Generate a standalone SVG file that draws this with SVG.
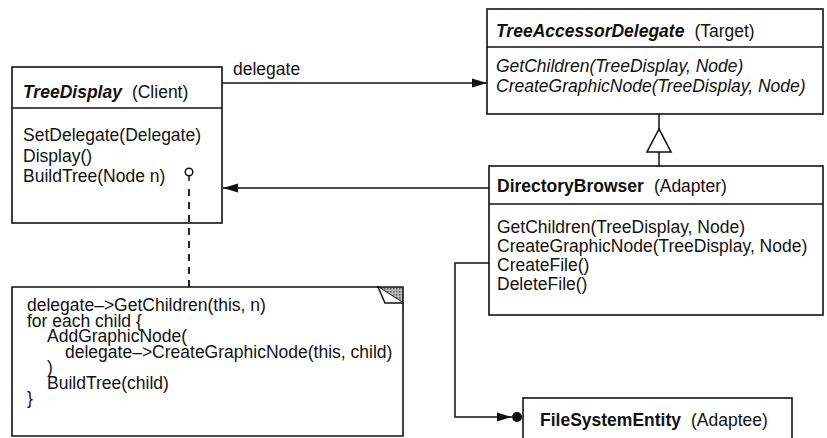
<svg xmlns="http://www.w3.org/2000/svg" width="827" height="438" viewBox="0 0 827 438">
<defs>
<style>
.box{fill:#fff;stroke:#111;stroke-width:1.6}
.ln{fill:none;stroke:#111;stroke-width:1.5}
.t{font-family:"Liberation Sans",Arial,sans-serif;font-size:17.5px;fill:#111}
.n{font-family:"Liberation Sans",Arial,sans-serif;font-size:17.5px;fill:#111}
.bi{font-weight:bold;font-style:italic}
.b{font-weight:bold}
.i{font-style:italic}
</style>
<marker id="arr" markerUnits="userSpaceOnUse" markerWidth="16" markerHeight="10" refX="15" refY="5" orient="auto">
<path d="M0,0.5 L15,5 L0,9.5 z" fill="#111"/>
</marker>
<pattern id="hatch" width="3" height="3" patternUnits="userSpaceOnUse">
<rect width="3" height="3" fill="#bbb"/>
<rect width="1.5" height="1.5" fill="#555"/>
</pattern>
</defs>
<rect width="827" height="438" fill="#fff"/>

<g id="TreeDisplay">
<rect class="box" x="12" y="67" width="210" height="156"/>
<line class="ln" x1="12" y1="108" x2="222" y2="108"/>
<text class="t" x="23" y="98"><tspan class="bi">TreeDisplay</tspan><tspan dx="10">(Client)</tspan></text>
<text class="t" x="23" y="141">SetDelegate(Delegate)</text>
<text class="t" x="23" y="162">Display()</text>
<text class="t" x="23" y="182">BuildTree(Node n)</text>
</g>

<g id="TreeAccessorDelegate">
<rect class="box" x="487" y="9" width="336" height="105"/>
<line class="ln" x1="487" y1="47" x2="823" y2="47"/>
<text class="t" x="496" y="37"><tspan class="bi">TreeAccessorDelegate</tspan><tspan dx="10">(Target)</tspan></text>
<text class="t i" x="496" y="72">GetChildren(TreeDisplay, Node)</text>
<text class="t i" x="496" y="92">CreateGraphicNode(TreeDisplay, Node)</text>
</g>

<g id="DirectoryBrowser">
<rect class="box" x="489" y="166" width="334" height="149"/>
<line class="ln" x1="489" y1="204" x2="823" y2="204"/>
<text class="t" x="497" y="192"><tspan class="b">DirectoryBrowser</tspan><tspan dx="10">(Adapter)</tspan></text>
<text class="t" x="497" y="233">GetChildren(TreeDisplay, Node)</text>
<text class="t" x="497" y="252">CreateGraphicNode(TreeDisplay, Node)</text>
<text class="t" x="497" y="271">CreateFile()</text>
<text class="t" x="497" y="290">DeleteFile()</text>
</g>

<g id="FileSystemEntity">
<rect class="box" x="523" y="398" width="269" height="50"/>
<text class="t" x="540" y="426"><tspan class="b">FileSystemEntity</tspan><tspan dx="10">(Adaptee)</tspan></text>
</g>

<g id="note">
<path class="box" d="M12,287 L378,287 L403,303 L403,436 L12,436 Z"/>
<polygon points="378,287 403,287 403,303" fill="url(#hatch)" stroke="#111" stroke-width="1.5"/>
<path d="M378,287 L385,303 L403,303" fill="#fff" stroke="#111" stroke-width="1.5"/>
<text class="n" x="27" y="311">delegate–&gt;GetChildren(this, n)</text>
<text class="n" x="27" y="327">for each child {</text>
<text class="n" x="47" y="342">AddGraphicNode(</text>
<text class="n" x="65" y="358">delegate–&gt;CreateGraphicNode(this, child)</text>
<text class="n" x="47" y="373">)</text>
<text class="n" x="47" y="389">BuildTree(child)</text>
<text class="n" x="27" y="404">}</text>
</g>

<g id="connectors">
<line class="ln" x1="222" y1="83" x2="487" y2="83" marker-end="url(#arr)"/>
<text class="t" x="233" y="75">delegate</text>
<line class="ln" x1="489" y1="188" x2="223" y2="188" marker-end="url(#arr)"/>
<line class="ln" x1="659" y1="114" x2="659" y2="129"/>
<polygon points="659,129 647,152 671,152" fill="#fff" stroke="#111" stroke-width="1.6"/>
<line class="ln" x1="659" y1="152" x2="659" y2="166"/>
<polyline class="ln" points="489,263 455,263 455,417 512,417" marker-end="url(#arr)"/>
<circle cx="517" cy="417" r="5" fill="#111"/>
<circle cx="189" cy="172" r="3.8" fill="#fff" stroke="#111" stroke-width="1.5"/>
<line class="ln" x1="189" y1="176" x2="189" y2="181"/>
<line x1="189" y1="189" x2="189" y2="287" stroke="#111" stroke-width="1.8" stroke-dasharray="7,6"/>
</g>
</svg>
